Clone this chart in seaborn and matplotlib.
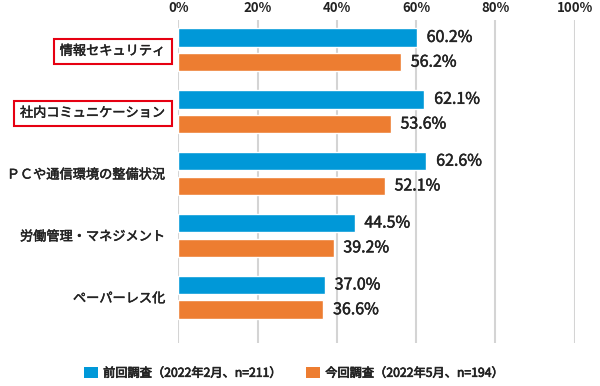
import seaborn as sns
import pandas as pd
import numpy as np
import matplotlib.pyplot as plt
import matplotlib.patheffects as pe
from matplotlib.patches import Patch

# データ
categories = ['情報セキュリティ', '社内コミュニケーション', 'ＰＣや通信環境の整備状況',
              '労働管理・マネジメント', 'ペーパーレス化']
prev_vals = [60.2, 62.1, 62.6, 44.5, 37.0]
curr_vals = [56.2, 53.6, 52.1, 39.2, 36.6]
series = ['前回調査（2022年2月、n=211）', '今回調査（2022年5月、n=194）']
boxed = ['情報セキュリティ', '社内コミュニケーション']
x_ticks = [0, 20, 40, 60, 80, 100]

df = pd.DataFrame({
    'cat': categories * 2,
    'val': prev_vals + curr_vals,
    'survey': [series[0]] * len(categories) + [series[1]] * len(categories),
})

sns.set_style('white')
plt.rcParams['font.family'] = ['Noto Sans CJK JP', 'DejaVu Sans']
colors = ['#0098d8', '#ed7d31']
txt = '#222222'
medium = [pe.withStroke(linewidth=0.35, foreground=txt)]  # 中太っぽく

fig = plt.figure(figsize=(6, 3.86), dpi=100)
ax = fig.add_axes([0.297, 0.111, 0.661, 0.837])

sns.barplot(data=df, x='val', y='cat', hue='survey', orient='h',
            palette=colors, width=0.8, gap=0.25, legend=False, ax=ax,
            saturation=1)

ax.set_xlim(0, 100)
ax.set_ylim(4.74, -0.48)
ax.set_xticks(x_ticks)
ax.set_xticklabels([f'{t}%' for t in x_ticks], fontsize=9.5, fontweight='bold')
ax.xaxis.tick_top()
ax.tick_params(axis='x', length=0, pad=4, colors=txt)
ax.tick_params(axis='y', length=0, pad=9)
for lbl in ax.get_yticklabels():
    lbl.set_fontsize(9.5)
    lbl.set_color(txt)
    lbl.set_path_effects(medium)
    if lbl.get_text() in boxed:
        lbl.set_bbox(dict(boxstyle='square,pad=0.45', facecolor='none',
                          edgecolor='#e60012', linewidth=1.5))
ax.set_xlabel('')
ax.set_ylabel('')
ax.grid(axis='x', color='#d4d4d4', linewidth=1.5)
ax.set_axisbelow(True)
for s in ax.spines.values():
    s.set_visible(False)

# 値ラベル
for cont in ax.containers:
    labs = ax.bar_label(cont, labels=[f'{v:.1f}%' for v in cont.datavalues],
                        padding=7, fontsize=11.5, color=txt)
    for t in labs:
        t.set_path_effects(medium)

handles = [Patch(facecolor=c, edgecolor='none') for c in colors]
leg = fig.legend(handles, series, loc='center', bbox_to_anchor=(0.49, 0.033),
                 ncol=2, frameon=False, prop={'size': 8.8},
                 handlelength=1.1, handleheight=1.1, columnspacing=2.0,
                 handletextpad=0.45)
for t in leg.get_texts():
    t.set_color(txt)
    t.set_path_effects([pe.withStroke(linewidth=0.5, foreground=txt)])

fig.savefig('out.png', dpi=100)
